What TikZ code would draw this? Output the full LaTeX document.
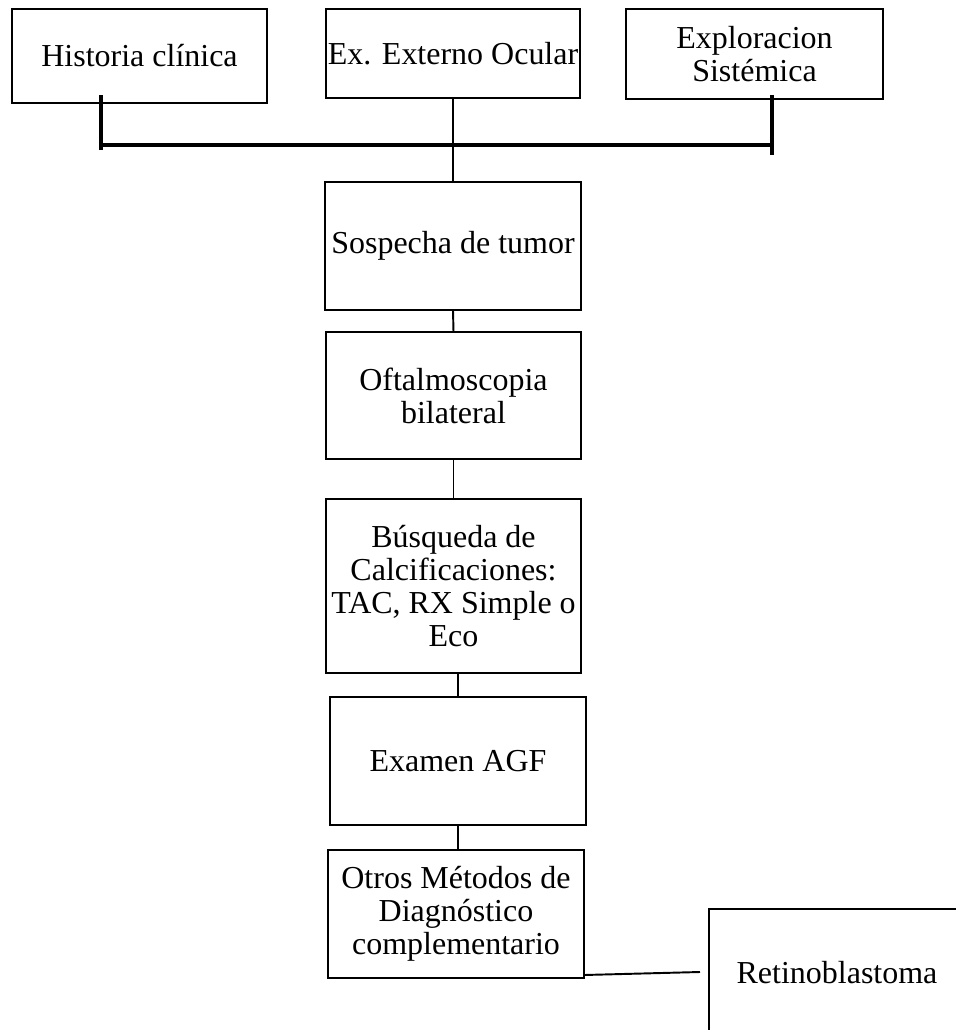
\documentclass[tikz,border=0pt]{standalone}
\usepackage{fontspec}
\setmainfont{Liberation Serif}
\tikzset{
  caja/.style={draw,line width=1.1pt,rectangle,inner sep=0pt,outer sep=0pt,align=center,
    font=\fontsize{18.2}{18.9}\selectfont},
  linea/.style={line width=1.1pt},
  barra/.style={line width=2.7pt},
  poste/.style={line width=1.9pt}
}
\begin{document}
\begin{tikzpicture}
\clip (0,0) rectangle (19.12,-20.6);
\node[caja,minimum width=5.1cm,minimum height=1.88cm] (hist) at (2.79,-1.12) {Historia clínica};
\node[caja,minimum width=5.08cm,minimum height=1.78cm] (exte) at (9.06,-1.07) {Ex. Externo Ocular};
\node[caja,minimum width=5.14cm,minimum height=1.8cm] (expl) at (15.09,-1.08) {Exploracion\\Sistémica};
\node[caja,minimum width=5.12cm,minimum height=2.56cm] (sosp) at (9.06,-4.92) {Sospecha de tumor};
\node[caja,minimum width=5.1cm,minimum height=2.54cm] (ofta) at (9.07,-7.91) {Oftalmoscopia\\bilateral};
\node[caja,minimum width=5.1cm,minimum height=3.48cm] (busq) at (9.07,-11.72) {Búsqueda de\\Calcificaciones:\\TAC, RX Simple o\\Eco};
\node[caja,minimum width=5.12cm,minimum height=2.56cm] (exam) at (9.16,-15.22) {Examen AGF};
\node[caja,minimum width=5.12cm,minimum height=2.56cm] (otro) at (9.12,-18.28) {Otros Métodos de\\Diagnóstico\\complementario};
\node[caja,minimum width=5.12cm,minimum height=2.56cm] (reti) at (16.74,-19.46) {Retinoblastoma};
\coordinate (histbaja) at (2.02,-1.9);
\coordinate (barraizq) at (2.02,-2.9);
\coordinate (explbaja) at (15.44,-1.9);
\coordinate (barrader) at (15.44,-2.9);
\coordinate (retiend) at (14.0,-19.44);
\draw[barra] (barraizq) -- (barrader);
\draw[poste] (histbaja) -- ++(0,-1.1);
\draw[poste] (explbaja) -- ++(0,-1.2);
\draw[linea] (exte.south) -- (sosp.north);
\draw[linea] (sosp.south) -- (ofta.north);
\draw[linea] (ofta.south) -- (busq.north);
\draw[linea] (busq.south -| exam.north) -- (exam.north);
\draw[linea] (exam.south) -- (exam.south |- otro.north);
\draw[linea] ([yshift=0.06cm]otro.south east) -- (retiend);
\end{tikzpicture}
\end{document}
